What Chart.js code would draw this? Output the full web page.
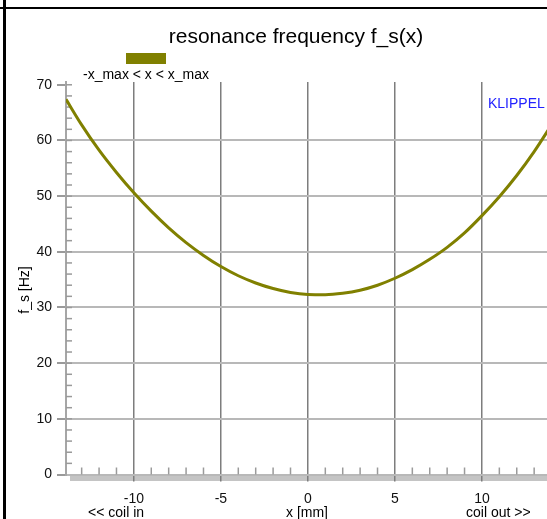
<!DOCTYPE html>
<html lang="en">
<head>
    <meta charset="UTF-8">
    <title>resonance frequency f_s(x)</title>
    <script src="https://cdn.jsdelivr.net/npm/chart.js@4.4.0/dist/chart.umd.min.js"></script>
    <style>
        html, body { margin: 0; padding: 0; background: #fff; overflow: hidden; }
        #wrap { position: relative; width: 547px; height: 519px; overflow: hidden; }
        #fsChart { position: absolute; left: 0; top: 0; }
        .frame-top { position: absolute; left: 0; top: 7px; width: 547px; height: 2px; background: #000; }
        .frame-left { position: absolute; left: 3px; top: 0; width: 3px; height: 519px; background: #000; }
    </style>
</head>
<body>
<div id="wrap">
    <canvas id="fsChart" width="592" height="519"></canvas>
    <div class="frame-top"></div>
    <div class="frame-left"></div>
</div>

<script>
    // displacement x [mm] and resonance frequency f_s [Hz]
    const xValues = [-13.9, -13, -12, -11, -10, -9, -8, -7, -6, -5, -4, -3, -2, -1, 0,
                     1, 2, 3, 4, 5, 6, 7, 8, 9, 10, 11, 12, 13, 14];
    const fsValues = [67.4, 62.8, 58.25, 54.25, 50.6, 47.3, 44.3, 41.65, 39.35, 37.35, 35.7, 34.4, 33.4, 32.7, 32.35,
                      32.3, 32.55, 33.1, 34.0, 35.25, 36.8, 38.65, 40.8, 43.4, 46.5, 49.9, 53.7, 58.0, 62.8];
    const xTicks = [-10, -5, 0, 5, 10];
    const yTicks = [0, 10, 20, 30, 40, 50, 60, 70];
    const seriesLabel = '-x_max < x < x_max';

    const FONT = 'Arial, "Liberation Sans", sans-serif';

    // title, legend, minor ticks and axis captions
    const decorPlugin = {
        id: 'decor',
        beforeDraw(chart) {
            const ctx = chart.ctx;
            const area = chart.chartArea;
            ctx.save();
            ctx.fillStyle = '#c4c4c4';
            ctx.fillRect(area.left + 4, area.bottom, area.right - area.left, 6.5);
            ctx.restore();
        },
        beforeDatasetsDraw(chart) {
            const ctx = chart.ctx;
            const area = chart.chartArea;
            const xs = chart.scales.x;
            const ys = chart.scales.y;
            ctx.save();
            ctx.strokeStyle = '#9a9a9a';
            ctx.lineWidth = 1.5;
            for (let v = -13; v <= 14; v++) {
                if (v % 5 === 0) continue;
                const px = xs.getPixelForValue(v);
                ctx.beginPath();
                ctx.moveTo(px, area.bottom);
                ctx.lineTo(px, area.bottom - 7);
                ctx.stroke();
            }
            for (let v = 2; v <= 70; v += 2) {
                const py = ys.getPixelForValue(v);
                ctx.beginPath();
                ctx.moveTo(area.left, py);
                ctx.lineTo(area.left + 6, py);
                ctx.stroke();
            }
            ctx.restore();
        },
        afterDraw(chart) {
            const ctx = chart.ctx;
            ctx.save();
            ctx.fillStyle = '#000';
            ctx.textBaseline = 'middle';

            ctx.font = '21px ' + FONT;
            ctx.textAlign = 'center';
            ctx.fillText('resonance frequency f_s(x)', 296, 37);

            // legend: box above, label below
            ctx.fillStyle = chart.data.datasets[0].borderColor;
            ctx.fillRect(126, 53, 40, 11);
            ctx.fillStyle = '#000';
            ctx.font = '14px ' + FONT;
            ctx.fillText(chart.data.datasets[0].label, 146, 75);

            ctx.fillStyle = '#2222ff';
            ctx.textAlign = 'left';
            ctx.fillText('KLIPPEL', 488, 104.5);

            ctx.fillStyle = '#000';
            ctx.fillText('<< coil in', 88, 513);
            ctx.textAlign = 'center';
            ctx.fillText('x [mm]', 307, 513);
            ctx.textAlign = 'left';
            ctx.fillText('coil out >>', 466, 513);

            ctx.translate(25, 290);
            ctx.rotate(-Math.PI / 2);
            ctx.textAlign = 'center';
            ctx.fillText('f_s [Hz]', 0, 0);
            ctx.restore();
        }
    };

    const points = xValues.map((x, i) => ({ x: x, y: fsValues[i] }));

    new Chart(document.getElementById('fsChart'), {
        type: 'line',
        data: {
            datasets: [{
                label: seriesLabel,
                data: points,
                borderColor: '#808000',
                borderWidth: 3,
                pointRadius: 0,
                cubicInterpolationMode: 'monotone',
                fill: false
            }]
        },
        options: {
            responsive: false,
            animation: false,
            layout: { padding: { top: 82, right: 30, left: 0, bottom: 0 } },
            plugins: {
                legend: { display: false },
                title: { display: false },
                tooltip: { enabled: false }
            },
            scales: {
                x: {
                    type: 'linear',
                    min: -13.9,
                    max: 14.6,
                    afterBuildTicks: scale => { scale.ticks = xTicks.map(v => ({ value: v })); },
                    afterFit: scale => { scale.height = 44.5; },
                    grid: {
                        color: '#7d7d7d',
                        lineWidth: 1.5,
                        tickLength: 7,
                        tickColor: '#7d7d7d'
                    },
                    border: { display: false },
                    ticks: {
                        color: '#111',
                        padding: 9,
                        maxRotation: 0,
                        font: { family: FONT, size: 14 }
                    }
                },
                y: {
                    type: 'linear',
                    min: 0,
                    max: 70.5,
                    afterBuildTicks: scale => { scale.ticks = yTicks.map(v => ({ value: v })); },
                    afterFit: scale => { scale.width = 66; },
                    grid: {
                        color: ctx => (ctx.tick && ctx.tick.value === 70) ? 'rgba(0,0,0,0)' : '#b8b8b8',
                        lineWidth: 2,
                        tickLength: 9,
                        tickColor: '#9a9a9a'
                    },
                    border: { display: true, color: '#a6a6a6', width: 2 },
                    ticks: {
                        color: '#111',
                        padding: 5,
                        font: { family: FONT, size: 14 }
                    }
                }
            }
        },
        plugins: [decorPlugin]
    });
</script>
</body>
</html>
